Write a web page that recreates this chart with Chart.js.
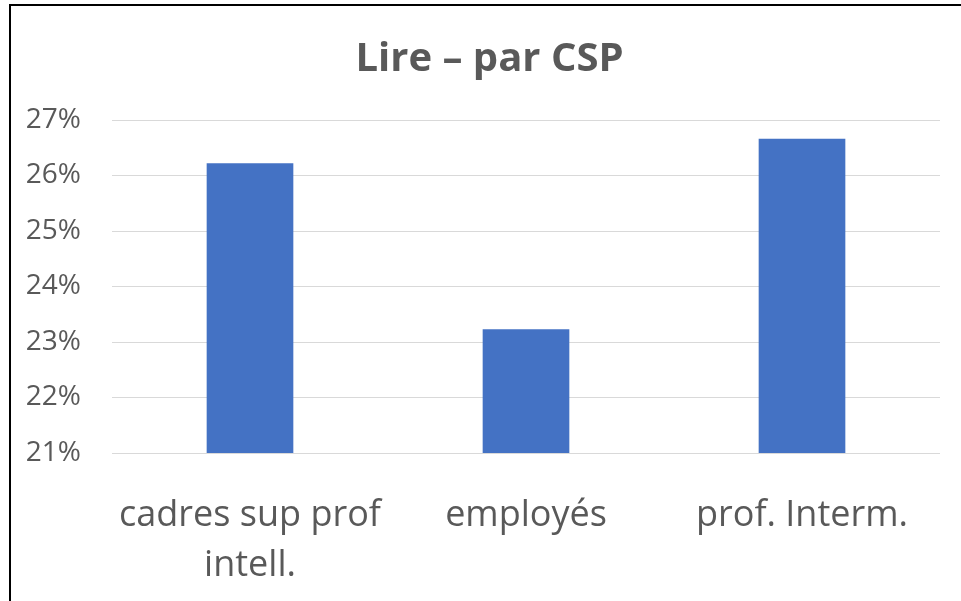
<!DOCTYPE html>
<html>
<head>
<meta charset="utf-8">
<script src="https://cdn.jsdelivr.net/npm/chart.js@4"></script>
<style>
  html, body { margin: 0; padding: 0; background: #fff; }
  #wrap { width: 961px; height: 601px; position: relative; }
</style>
</head>
<body>
<div id="wrap"><canvas id="c" width="961" height="601"></canvas></div>
<script>
const titleText = "Lire – par CSP";
const categories = [["cadres sup prof", "intell."], "employés", "prof. Interm."];
const values = [26.22, 23.23, 26.66];
const yMin = 21, yMax = 27, yStep = 1;

const framePlugin = {
  id: 'frame',
  beforeDraw(chart) {
    const ctx = chart.ctx;
    ctx.save();
    ctx.fillStyle = '#fff';
    ctx.fillRect(0, 0, chart.width, chart.height);
    ctx.fillStyle = '#000';
    ctx.fillRect(9, 4, 2, chart.height - 4);
    ctx.fillRect(9, 4, chart.width - 9, 2);
    ctx.restore();
  },
  afterDraw(chart) {
    const ctx = chart.ctx;
    ctx.save();
    ctx.fillStyle = '#595959';
    ctx.font = 'bold 40px "Open Sans"';
    ctx.textAlign = 'center';
    ctx.textBaseline = 'alphabetic';
    ctx.fillText(titleText, 489.5, 71);
    ctx.restore();
  }
};

new Chart(document.getElementById('c'), {
  type: 'bar',
  data: {
    labels: categories,
    datasets: [{
      data: values,
      backgroundColor: '#4472C4',
      borderWidth: 0,
      barPercentage: 0.314,
      categoryPercentage: 1
    }]
  },
  options: {
    responsive: false,
    animation: false,
    devicePixelRatio: 1,
    layout: { padding: { left: 12, right: 21, top: 120, bottom: 0 } },
    plugins: {
      legend: { display: false },
      tooltip: { enabled: false },
      title: { display: false }
    },
    scales: {
      x: {
        grid: { display: false },
        border: { display: false },
        ticks: {
          color: '#595959',
          font: { family: 'Open Sans', size: 36, lineHeight: 1.39 },
          padding: 30,
          maxRotation: 0,
          autoSkip: false
        },
        afterFit(s) { s.height = 148; }
      },
      y: {
        min: yMin,
        max: yMax,
        grid: { color: '#d9d9d9', lineWidth: 1, drawTicks: false },
        border: { display: false },
        ticks: {
          stepSize: yStep,
          color: '#595959',
          font: { family: 'Open Sans', size: 28 },
          padding: 31,
          callback: v => v + '%'
        },
        afterFit(s) { s.width = 100; }
      }
    }
  },
  plugins: [framePlugin]
});
</script>
</body>
</html>
